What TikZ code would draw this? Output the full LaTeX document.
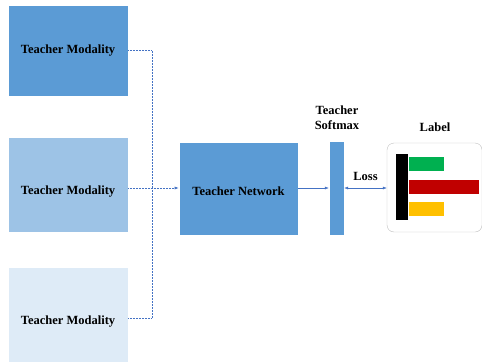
\documentclass[tikz,border=0pt]{standalone}
\usepackage{fontspec}
\setmainfont{Liberation Serif}
\usepackage{xcolor}
\usetikzlibrary{arrows.meta, positioning}
\definecolor{boxblue}{RGB}{91, 155, 213}
\definecolor{midblue}{RGB}{157, 195, 230}
\definecolor{paleblue}{RGB}{222, 235, 247}
\definecolor{lineblue}{RGB}{68, 114, 196}
\definecolor{bargreen}{RGB}{0, 176, 80}
\definecolor{barred}{RGB}{192, 0, 0}
\definecolor{baryellow}{RGB}{255, 192, 0}

\begin{document}
\begin{tikzpicture}[x=1pt,y=-1pt,
          box/.style={draw=white,line width=0.6pt,minimum width=120pt,
                      inner sep=0pt,font=\fontsize{12.5}{14}\selectfont\bfseries},
          txt/.style={font=\fontsize{12.5}{15}\selectfont\bfseries,align=center},
          link/.style={lineblue,line width=0.5pt},
          bar/.style={draw=white,line width=0.4pt,inner sep=0pt,anchor=north west}]
        \useasboundingbox (0,0) rectangle (482,362);
        \node[box,fill=boxblue,minimum height=91pt](mod1) at (68,50.5){Teacher Modality};
        \node[box,fill=midblue,minimum height=95pt,text height=21pt,text depth=3pt](mod2) at (68,185){Teacher Modality};
        \node[box,fill=paleblue,minimum height=95pt,text height=21pt,text depth=3pt](mod3) at (68,315){Teacher Modality};
        \node[box,fill=boxblue,minimum width=119pt,minimum height=93pt,text height=17pt,text depth=3pt](net) at (238.5,188.5){Teacher Network};
        \node[draw=white,fill=boxblue,minimum width=15pt,minimum height=94pt,inner sep=0pt](soft) at (336.5,188){};
        \node[txt](softlbl) at (337,118){Teacher\\Softmax};
        \node[draw=black!25,rounded corners=7pt,minimum width=95pt,minimum height=89pt](lbl) at (434.5,187.5){};
        \node[txt](lbltxt) at (435,127){Label};
        % bars of the label
        \node[bar,fill=black,minimum width=13pt,minimum height=67pt](pole) at (395,153){};
        \node[bar,fill=bargreen,minimum width=36pt,minimum height=15pt](gbar) at (408,156){};
        \node[bar,fill=barred,minimum width=71pt,minimum height=15pt](rbar) at (408,179){};
        \node[bar,fill=baryellow,minimum width=36pt,minimum height=15pt](ybar) at (408,201){};
        \coordinate(join) at (152,188);
        \draw[link,densely dotted](mod1.east)-|(join);
        \draw[link,densely dotted](mod3.east|-0,318)-|(join);
        \draw[link,densely dotted,-{Latex[length=4pt,width=3pt]}](mod2.east|-join)--(net.west|-join);
        \draw[link,-{Latex[length=4pt,width=3pt]}](net.east|-join)--(soft.west|-join);
        \draw[link,{Latex[length=4pt,width=3pt]}-{Latex[length=4pt,width=3pt]}](soft.east|-join)--(lbl.west|-join)
          node[midway,above=4pt,black,txt](loss){Loss};
      \end{tikzpicture}
\end{document}
